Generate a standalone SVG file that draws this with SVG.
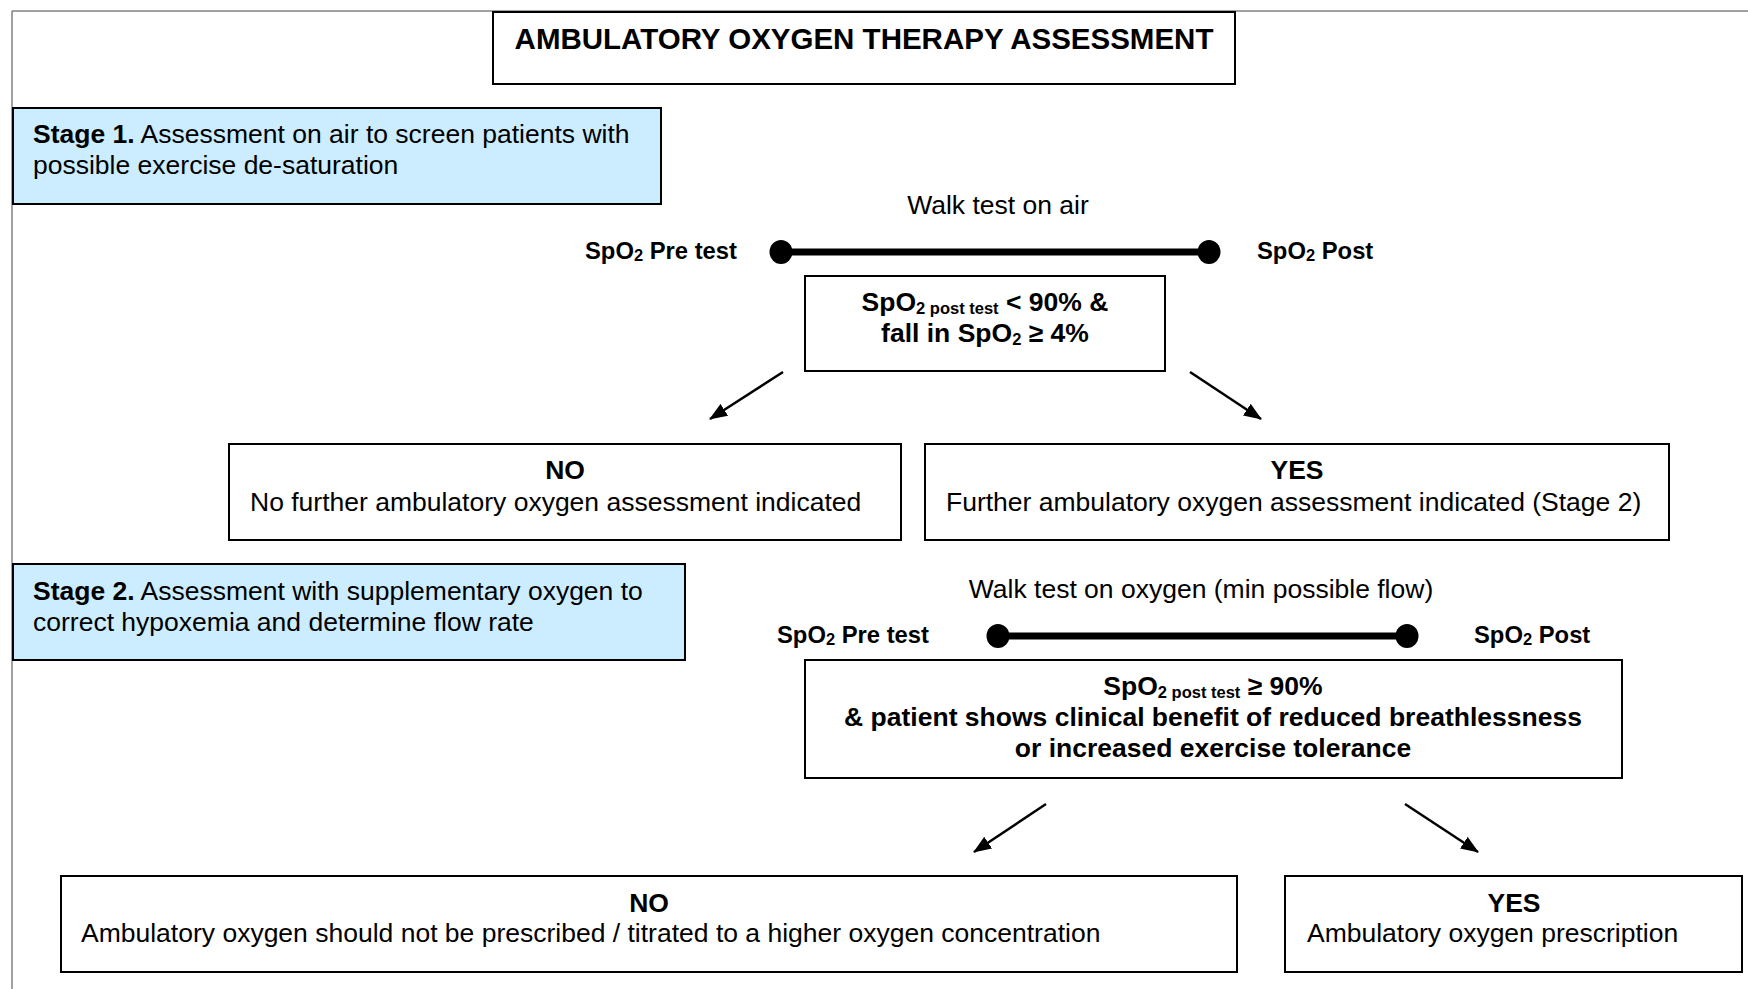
<svg xmlns="http://www.w3.org/2000/svg" width="1748" height="989" viewBox="0 0 1748 989">
<style>
text{font-family:"Liberation Sans",Arial,sans-serif;fill:#000}
.b{font-weight:bold}
.t{font-size:26.5px}
.s{font-size:23.8px}
.box{fill:#fff;stroke:#000;stroke-width:2}
.stage{fill:#CCECFF;stroke:#000;stroke-width:2}
.arr{stroke:#000;stroke-width:2.5;fill:none}
.bar{stroke:#000;stroke-width:7}
.sub{font-size:16.5px}
</style>
<defs>
<marker id="ah" markerWidth="18" markerHeight="14" refX="17" refY="7" orient="auto" markerUnits="userSpaceOnUse">
<path d="M0,0 L18,7 L0,14 Z" fill="#000"/>
</marker>
</defs>
<g id="frame">
<line x1="12" y1="11" x2="1748" y2="11" stroke="#808080" stroke-width="1.5"/>
<line x1="12" y1="11" x2="12" y2="989" stroke="#808080" stroke-width="1.5"/>
</g>
<g id="title">
<rect class="box" x="493" y="12" width="742" height="72"/>
<text class="b" x="864" y="49" font-size="29.5" text-anchor="middle">AMBULATORY OXYGEN THERAPY ASSESSMENT</text>
</g>
<g id="stage1">
<rect class="stage" x="13" y="108" width="648" height="96"/>
<text class="t" x="33" y="143"><tspan class="b">Stage 1.</tspan> Assessment on air to screen patients with</text>
<text class="t" x="33" y="174">possible exercise de-saturation</text>
</g>
<g id="walk1">
<text class="t" x="998" y="214" text-anchor="middle">Walk test on air</text>
<text class="s b" x="737" y="259" text-anchor="end">SpO<tspan class="sub" dy="2">2</tspan><tspan dy="-2"> Pre test</tspan></text>
<line class="bar" x1="781" y1="252" x2="1209" y2="252"/>
<ellipse cx="781" cy="252" rx="11.5" ry="12"/>
<ellipse cx="1209" cy="252" rx="11.5" ry="12"/>
<text class="s b" x="1257" y="259">SpO<tspan class="sub" dy="2">2</tspan><tspan dy="-2"> Post</tspan></text>
</g>
<g id="crit1">
<rect class="box" x="805" y="276" width="360" height="95"/>
<text class="t b" x="985" y="311" text-anchor="middle">SpO<tspan class="sub" dy="3">2 post test</tspan><tspan dy="-3"> &lt; 90% &amp;</tspan></text>
<text class="t b" x="985" y="342" text-anchor="middle">fall in SpO<tspan class="sub" dy="3">2</tspan><tspan dy="-3"> ≥ 4%</tspan></text>
</g>
<g id="no1">
<rect class="box" x="229" y="444" width="672" height="96"/>
<text class="t b" x="565" y="479" text-anchor="middle">NO</text>
<text class="t" x="250" y="511">No further ambulatory oxygen assessment indicated</text>
</g>
<g id="yes1">
<rect class="box" x="925" y="444" width="744" height="96"/>
<text class="t b" x="1297" y="479" text-anchor="middle">YES</text>
<text class="t" x="946" y="511">Further ambulatory oxygen assessment indicated (Stage 2)</text>
</g>
<g id="stage2">
<rect class="stage" x="13" y="564" width="672" height="96"/>
<text class="t" x="33" y="600"><tspan class="b">Stage 2.</tspan> Assessment with supplementary oxygen to</text>
<text class="t" x="33" y="631">correct hypoxemia and determine flow rate</text>
</g>
<g id="walk2">
<text class="t" x="1201" y="598" text-anchor="middle">Walk test on oxygen (min possible flow)</text>
<text class="s b" x="929" y="643" text-anchor="end">SpO<tspan class="sub" dy="2">2</tspan><tspan dy="-2"> Pre test</tspan></text>
<line class="bar" x1="998" y1="636" x2="1407" y2="636"/>
<ellipse cx="998" cy="636" rx="11.5" ry="12"/>
<ellipse cx="1407" cy="636" rx="11.5" ry="12"/>
<text class="s b" x="1474" y="643">SpO<tspan class="sub" dy="2">2</tspan><tspan dy="-2"> Post</tspan></text>
</g>
<g id="crit2">
<rect class="box" x="805" y="660" width="817" height="118"/>
<text class="t b" x="1213" y="695" text-anchor="middle">SpO<tspan class="sub" dy="3">2 post test</tspan><tspan dy="-3"> ≥ 90%</tspan></text>
<text class="t b" x="1213" y="726" text-anchor="middle">&amp; patient shows clinical benefit of reduced breathlessness</text>
<text class="t b" x="1213" y="757" text-anchor="middle">or increased exercise tolerance</text>
</g>
<g id="no2">
<rect class="box" x="61" y="876" width="1176" height="96"/>
<text class="t b" x="649" y="912" text-anchor="middle">NO</text>
<text class="t" x="81" y="942">Ambulatory oxygen should not be prescribed / titrated to a higher oxygen concentration</text>
</g>
<g id="yes2">
<rect class="box" x="1285" y="876" width="457" height="96"/>
<text class="t b" x="1514" y="912" text-anchor="middle">YES</text>
<text class="t" x="1307" y="942">Ambulatory oxygen prescription</text>
</g>
<g id="connectors">
<line class="arr" x1="783" y1="372" x2="710" y2="419" marker-end="url(#ah)"/>
<line class="arr" x1="1190" y1="372" x2="1261" y2="419" marker-end="url(#ah)"/>
<line class="arr" x1="1046" y1="804" x2="974" y2="852" marker-end="url(#ah)"/>
<line class="arr" x1="1405" y1="804" x2="1478" y2="852" marker-end="url(#ah)"/>
</g>
</svg>
